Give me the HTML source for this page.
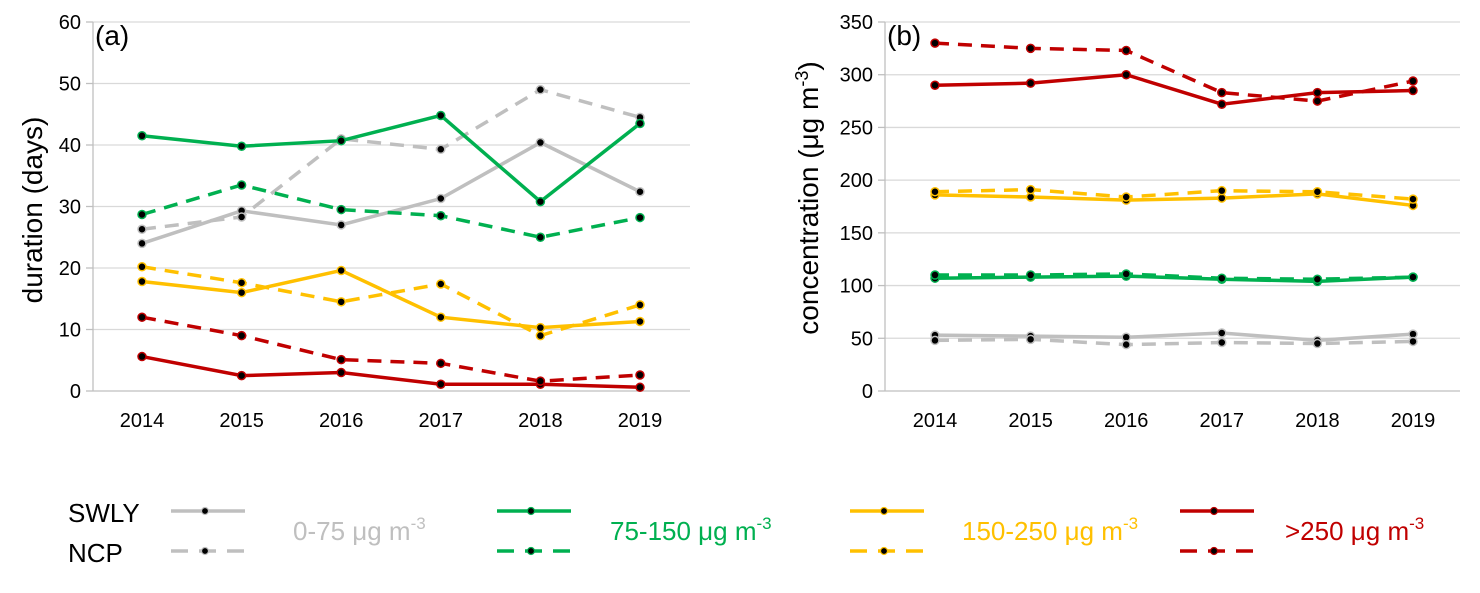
<!DOCTYPE html>
<html><head><meta charset="utf-8"><style>
body{margin:0;background:#fff;}
svg text{font-family:"Liberation Sans",Arial,sans-serif;}
</style></head><body>
<svg id="c" width="1480" height="588" xmlns="http://www.w3.org/2000/svg"></svg>
<script>
const years=["2014","2015","2016","2017","2018","2019"];
const aTicks=[0,10,20,30,40,50,60];
const bTicks=[0,50,100,150,200,250,300,350];
const aGraySolid=[24.0,29.3,27.0,31.3,40.4,32.4];
const aGrayDash=[26.3,28.3,41.0,39.3,49.0,44.5];
const aGreenSolid=[41.5,39.8,40.7,44.8,30.8,43.5];
const aGreenDash=[28.7,33.5,29.5,28.5,25.0,28.2];
const aYellowSolid=[17.8,16.0,19.6,12.0,10.3,11.3];
const aYellowDash=[20.2,17.6,14.5,17.4,9.0,14.0];
const aRedSolid=[5.6,2.5,3.0,1.1,1.1,0.6];
const aRedDash=[12.0,9.0,5.1,4.5,1.6,2.6];
const bGraySolid=[53,52,51,55,48,54];
const bGrayDash=[48,49,44,46,45,47];
const bGreenSolid=[107,108,109,106,104,108];
const bGreenDash=[110,110,111,107,106,108];
const bYellowSolid=[186,184,181,183,187,176];
const bYellowDash=[189,191,184,190,189,182];
const bRedSolid=[290,292,300,272,283,285];
const bRedDash=[330,325,323,283,275,294];

const NS="http://www.w3.org/2000/svg";
const svg=document.getElementById('c');
function el(t,a,p){const e=document.createElementNS(NS,t);for(const k in a)e.setAttribute(k,a[k]);(p||svg).appendChild(e);return e;}
const GRAY="#bfbfbf",GREEN="#00b050",YEL="#ffc000",RED="#c00000";

function panel(cfg){
  const g=el('g',{});
  
  
  const y0=391,yTop=22;
  const ys=v=>y0-(v/cfg.max)*(y0-yTop);
  const xs=i=>cfg.x0+i*(cfg.x1-cfg.x0)/(years.length-1);
  cfg.ticks.forEach(t=>{
    const l=el('line',{x1:cfg.axis,x2:cfg.gEnd,y1:ys(t),y2:ys(t),stroke:t===0?'#bfbfbf':'#d9d9d9','stroke-width':1.3},g);
    
    
    el('line',{x1:cfg.axis-7,x2:cfg.axis,y1:ys(t),y2:ys(t),stroke:'#bfbfbf','stroke-width':1.3},g);
    const tx=el('text',{x:cfg.axis-12,y:ys(t)+7,'text-anchor':'end','font-size':20,fill:'#000'},g);
    tx.textContent=t;
    
    
  });
  const ax=el('line',{x1:cfg.axis,x2:cfg.axis,y1:yTop,y2:y0,stroke:'#bfbfbf','stroke-width':1.3},g);
  
  
  years.forEach((y,i)=>{
    const tx=el('text',{x:xs(i),y:427,'text-anchor':'middle','font-size':20,fill:'#000'},g);
    tx.textContent=y;
    
    
  });
  cfg.series.forEach(s=>{
    const pts=s.d.map((v,i)=>xs(i)+','+ys(v)).join(' ');
    const pl=el('polyline',{points:pts,fill:'none',stroke:s.c,'stroke-width':3.5,'stroke-dasharray':s.dash?'14,9':'none'},g);
    
    
    s.d.forEach((v,i)=>{
      const m=el('circle',{cx:xs(i),cy:ys(v),r:4,fill:'#000',stroke:s.c,'stroke-width':1.5},g);
      
      
    });
  });
  const lab=el('text',{x:cfg.axis+2,y:45,'font-size':28,fill:'#000'},g);
  lab.textContent=cfg.label;
  
  
  const yt=el('text',{transform:`translate(${cfg.ytx},${cfg.yty}) rotate(-90)`,'text-anchor':'middle','font-size':28,fill:'#000'},g);
  yt.innerHTML=cfg.ytitle;
  
  
}
panel({name:'panel-a-duration',axis:93,gEnd:690,x0:142,x1:640,max:60,ticks:aTicks,label:'(a)',ytx:42,yty:210,
  ytitle:'duration (days)',
  series:[{d:aGraySolid,c:GRAY,n:'swly-0-75'},{d:aGrayDash,c:GRAY,dash:1,n:'ncp-0-75'},
  {d:aGreenSolid,c:GREEN,n:'swly-75-150'},{d:aGreenDash,c:GREEN,dash:1,n:'ncp-75-150'},
  {d:aYellowSolid,c:YEL,n:'swly-150-250'},{d:aYellowDash,c:YEL,dash:1,n:'ncp-150-250'},
  {d:aRedSolid,c:RED,n:'swly-250'},{d:aRedDash,c:RED,dash:1,n:'ncp-250'}]});
panel({name:'panel-b-concentration',axis:885,gEnd:1460,x0:935,x1:1413,max:350,ticks:bTicks,label:'(b)',ytx:818,yty:198,
  ytitle:'concentration (μg m<tspan dy="-10" font-size="18">-3</tspan><tspan dy="10">)</tspan>',
  series:[{d:bGraySolid,c:GRAY,n:'swly-0-75'},{d:bGrayDash,c:GRAY,dash:1,n:'ncp-0-75'},
  {d:bGreenSolid,c:GREEN,n:'swly-75-150'},{d:bGreenDash,c:GREEN,dash:1,n:'ncp-75-150'},
  {d:bYellowSolid,c:YEL,n:'swly-150-250'},{d:bYellowDash,c:YEL,dash:1,n:'ncp-150-250'},
  {d:bRedSolid,c:RED,n:'swly-250'},{d:bRedDash,c:RED,dash:1,n:'ncp-250'}]});

// legend
const lg=el('g',{});


[['SWLY',522],['NCP',562]].forEach(([t,y])=>{
  const tx=el('text',{x:68,y:y,'font-size':26,fill:'#000'},lg);tx.textContent=t;
  
  
});
const legItems=[[171,GRAY,'0-75',293],[497,GREEN,'75-150',610],[850,YEL,'150-250',962],[1180,RED,'>250',1285]];
legItems.forEach(([x,c,t,tx])=>{
  const e=el('g',{},lg);
  
  
  el('line',{x1:x,x2:x+74,y1:511,y2:511,stroke:c,'stroke-width':3.5},e);
  el('line',{x1:x,x2:x+74,y1:551,y2:551,stroke:c,'stroke-width':3.5,'stroke-dasharray':'17,11'},e);
  el('circle',{cx:x+34,cy:511,r:3.5,fill:'#000',stroke:c,'stroke-width':1.2},e);
  el('circle',{cx:x+34,cy:551,r:3.5,fill:'#000',stroke:c,'stroke-width':1.2},e);
  const l=el('text',{x:tx,y:540,'font-size':26,fill:c},e);
  l.innerHTML=t.replace('>','&gt;')+' μg m<tspan dy="-11" font-size="17">-3</tspan>';
});
</script>
</body></html>
